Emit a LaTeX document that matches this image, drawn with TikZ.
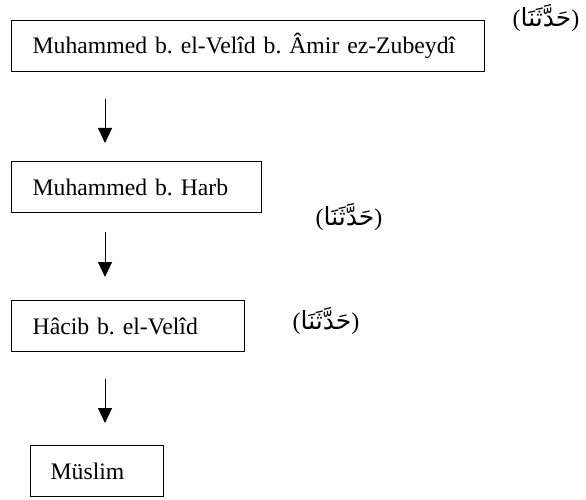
\documentclass[tikz,border=0pt]{standalone}
\usepackage{fontspec}
\setmainfont{Liberation Serif}
\newfontfamily\arabicfont[Script=Arabic]{DejaVu Sans}
\TeXXeTstate=1
\usetikzlibrary{arrows.meta}
\newcommand{\haddesena}{{\fontsize{24}{28}\selectfont(}{\arabicfont\fontsize{25}{28}\selectfont\beginR حَدَّثَنَا\endR}{\fontsize{24}{28}\selectfont)}}
\begin{document}
\frenchspacing
\begin{tikzpicture}[x=1pt,y=-1pt,
  font=\fontsize{23.7}{28}\selectfont\frenchspacing,
  box/.style={draw, line width=1.3pt, anchor=north west, inner xsep=21pt, inner ysep=0pt,
    minimum height=51pt, text width=#1, align=left},
  lbl/.style={inner sep=0pt},
  arr/.style={line width=1pt, -{Triangle[length=15pt,width=14pt]}}]
\useasboundingbox (0,0) rectangle (586,500);
\node[box=431pt] (b1) at (11,20) {Muhammed b. el-Velîd b. Âmir ez-Zubeydî};
\node[box=208pt] (b2) at (11,161) {Muhammed b. Harb};
\node[box=191pt] (b3) at (11,300) {Hâcib b. el-Velîd};
\node[box=93pt, inner xsep=20pt] (b4) at (30,445) {Müslim};
\node[lbl] (l1) at (546,18) {\haddesena};
\node[lbl] (l2) at (349,217) {\haddesena};
\node[lbl] (l3) at (326,321) {\haddesena};
\coordinate (a1s) at (105,99);  \coordinate (a1e) at (105,143);
\coordinate (a2s) at (105,232); \coordinate (a2e) at (105,277);
\coordinate (a3s) at (105,379); \coordinate (a3e) at (105,423);
\draw[arr] (a1s) -- (a1e);
\draw[arr] (a2s) -- (a2e);
\draw[arr] (a3s) -- (a3e);
\end{tikzpicture}
\end{document}
